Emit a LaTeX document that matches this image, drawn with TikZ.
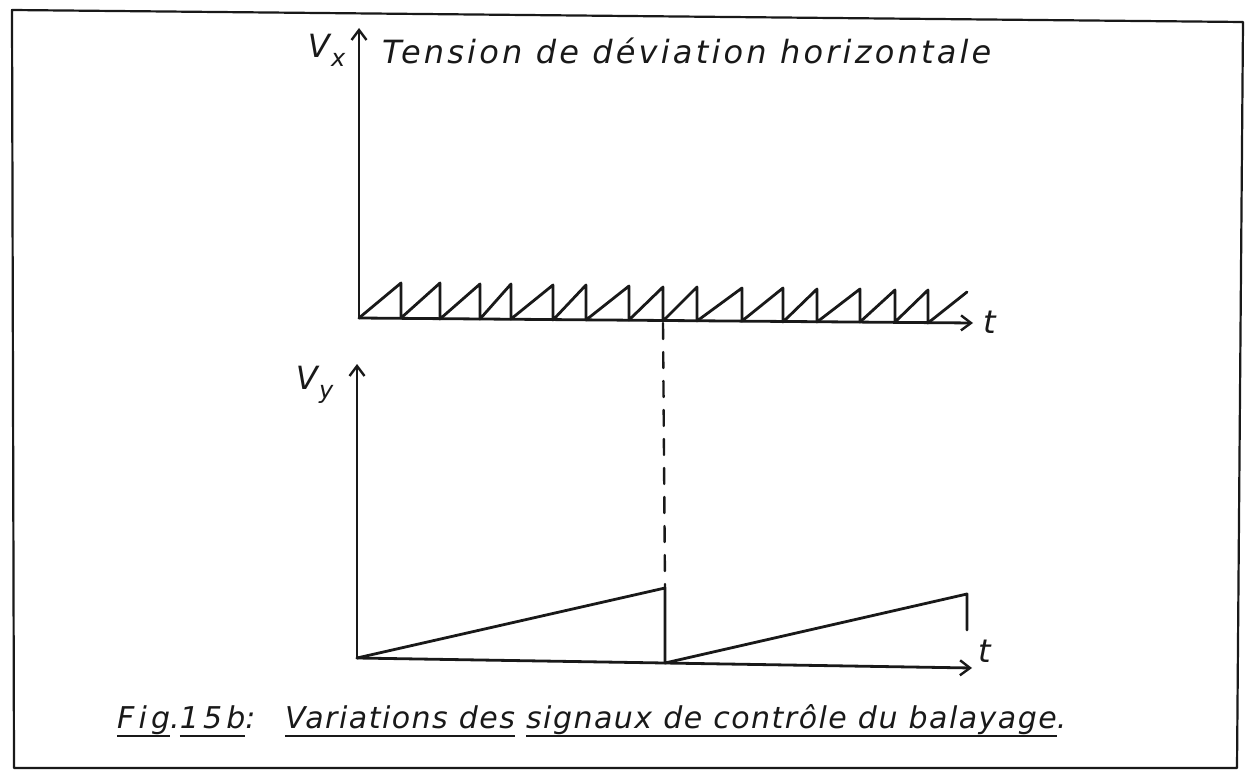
\documentclass[tikz,border=0pt]{standalone}
\usepackage{fontspec}
\setmainfont{DejaVu Sans}
\newfontfamily\handA[LetterSpace=10]{DejaVu Sans}
\newfontfamily\handB[LetterSpace=5]{DejaVu Sans}
\newfontfamily\handC[LetterSpace=14]{DejaVu Sans}
\usetikzlibrary{arrows.meta}
\newsavebox{\myulbox}
\newcommand\myul[1]{\sbox{\myulbox}{#1}\rlap{\rule[-9pt]{\wd\myulbox}{2.4pt}}\usebox{\myulbox}}
\begin{document}
\begin{tikzpicture}[x=1pt,y=-1pt, line cap=round, line join=round,
  ln/.style={line width=2.8pt, black!90},
  ax/.style={ln,-{Straight Barb[length=10pt,width=15pt,line width=2.4pt]}},
  lbl/.style={font=\handA\fontsize{32}{34}\selectfont\itshape, inner sep=0pt, text=black!90},
  captxt/.style={font=\handB\fontsize{30}{32}\selectfont\itshape, inner sep=0pt, text=black!90},
  figtxt/.style={font=\handC\fontsize{30}{32}\selectfont\itshape, inner sep=0pt, text=black!90},
  sub/.style={font=\fontsize{24}{26}\selectfont\itshape, inner sep=0pt, text=black!90}
 ]
\useasboundingbox (0,0) rectangle (1254,781);
\fill[white] (0,0) rectangle (1254,781);
% frame
\draw[line width=2.2pt, black!90] (12,10) -- (1243,22) -- (1237,768) -- (14,768) -- cycle;

% ---------- top graph ----------
\coordinate (o1) at (359,318);
\coordinate (y1) at (359,28);
\coordinate (x1) at (973,323);
\draw[ax] (o1) -- (y1);
\draw[ax] (o1) -- (x1);
\node[lbl, anchor=base west] (title) at (382,64) {Tension de déviation horizontale};
\node[lbl, anchor=base east] (vx) at (330,58) {V};
\node[sub, anchor=base west] (vxs) at (vx.base east) [yshift=-9pt, xshift=1pt] {x};
\node[lbl, anchor=base west] (t1) at (983,333) {t};

% sawtooth
\draw[ln] (o1)
  -- (401,283) -- (401,318)
  -- (440,283) -- (440,319)
  -- (480,284) -- (480,319)
  -- (511,284) -- (511,319)
  -- (553,285) -- (553,320)
  -- (586,285) -- (586,320)
  -- (629,286) -- (629,320)
  -- (663,287) -- (663,321)
  -- (697,287) -- (697,321)
  -- (742,288) -- (742,321)
  -- (783,288) -- (783,322)
  -- (817,289) -- (817,322)
  -- (860,289) -- (860,322)
  -- (895,290) -- (895,322)
  -- (928,290) -- (928,323)
  -- (967,292);

% dashed link
\coordinate (d1) at (663,323);
\coordinate (d2) at (665,588);
\draw[line width=2.4pt, black!90, dash pattern=on 16pt off 13pt] (d1) -- (d2);

% ---------- bottom graph ----------
\coordinate (o2) at (357,658);
\coordinate (y2) at (357,364);
\coordinate (x2) at (972,668);
\draw[ax] (o2) -- (y2);
\draw[ax] (o2) -- (x2);
\node[lbl, anchor=base east] (vy) at (318,389) {V};
\node[sub, anchor=base west] (vys) at (vy.base east) [yshift=-9pt, xshift=1pt] {y};
\node[lbl, anchor=base west] (t2) at (978,662) {t};

\draw[ln] (o2) -- (665,588) -- (665,663) -- (967,594) -- (967,630);

% ---------- caption ----------
\node[figtxt, anchor=base west] (fig) at (117,728) {\myul{Fig}.\myul{15b}:};
\node[captxt, anchor=base west] (capt) at (285,728)
  {\myul{Variations des} \myul{signaux de contrôle du balayage}.};
\end{tikzpicture}
\end{document}
